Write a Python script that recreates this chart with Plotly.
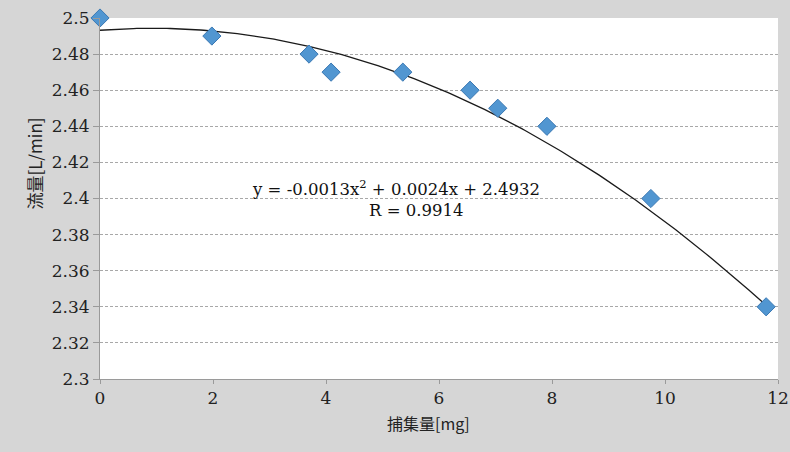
import numpy as np
import plotly.graph_objects as go

# Measured data: collected amount [mg] vs. flow rate [L/min]
collected_mg = [0.0, 1.98, 3.70, 4.09, 5.36, 6.55, 7.04, 7.91, 9.75, 11.79]
flow_lpm = [2.50, 2.49, 2.48, 2.47, 2.47, 2.46, 2.45, 2.44, 2.40, 2.34]

# Quadratic trendline coefficients (a*x^2 + b*x + c) and fit statistic
coef_a, coef_b, coef_c = -0.0013, 0.0024, 2.4932
fit_r = 0.9914

x_ticks = [0, 2, 4, 6, 8, 10, 12]
y_ticks = [2.3, 2.32, 2.34, 2.36, 2.38, 2.4, 2.42, 2.44, 2.46, 2.48, 2.5]
y_tick_text = ["2.3", "2.32", "2.34", "2.36", "2.38", "2.4", "2.42", "2.44", "2.46", "2.48", "2.5"]

x_title = "捕集量[mg]"
y_title = "流量[L/min]"

serif = "DejaVu Serif"
cjk = "Noto Sans CJK JP"

fit_x = np.linspace(0, max(collected_mg), 200)
fit_y = coef_a * fit_x**2 + coef_b * fit_x + coef_c

fig = go.Figure()
fig.add_trace(go.Scatter(
    x=fit_x, y=fit_y, mode="lines",
    line=dict(color="#1a1a1a", width=1.3),
    hoverinfo="skip", showlegend=False,
))
fig.add_trace(go.Scatter(
    x=collected_mg, y=flow_lpm, mode="markers",
    marker=dict(symbol="diamond", size=14, color="#5196d1",
                line=dict(color="#3a78b3", width=1)),
    cliponaxis=False, showlegend=False,
))

eq_text = (f"y = -{abs(coef_a):.4f}x<sup>2</sup> + {coef_b:.4f}x + {coef_c:.4f}")
fig.add_annotation(x=5.24, y=2.4058, text=eq_text, showarrow=False,
                   font=dict(family=serif, size=16.5, color="#111111"))
fig.add_annotation(x=5.59, y=2.3936, text=f"R = {fit_r:.4f}", showarrow=False,
                   font=dict(family=serif, size=16.5, color="#111111"))

# Axis titles
fig.add_annotation(xref="paper", yref="paper", x=0.484, y=-0.161,
                   text=x_title, showarrow=False,
                   font=dict(family=cjk, size=16, color="#222222"))
fig.add_annotation(xref="paper", yref="paper", x=-0.118, y=0.598,
                   text=y_title, showarrow=False, textangle=-90,
                   font=dict(family=cjk, size=17, color="#222222"))

fig.update_layout(
    width=790, height=452,
    margin=dict(l=100, r=12, t=18, b=73),
    paper_bgcolor="#d6d6d6",
    plot_bgcolor="#ffffff",
    font=dict(family=serif, size=16, color="#222222"),
    showlegend=False,
)
fig.update_xaxes(
    range=[0, 12], tickvals=x_ticks, ticktext=[str(v) for v in x_ticks],
    showgrid=False, zeroline=False, automargin=False,
    showline=True, linecolor="#9a9a9a", linewidth=1,
    ticks="outside", ticklen=4, tickcolor="#9a9a9a",
    tickfont=dict(family=serif, size=17, color="#222222"),
)
fig.update_yaxes(
    range=[2.3, 2.5], tickvals=y_ticks, ticktext=y_tick_text,
    showgrid=True, gridcolor="#a8a8a8", gridwidth=1, griddash="3px,2px",
    zeroline=False, automargin=False,
    showline=True, linecolor="#9a9a9a", linewidth=1,
    ticks="outside", ticklen=6, tickcolor="#9a9a9a",
    tickfont=dict(family=serif, size=17, color="#222222"),
)

fig.write_html("out.html")
